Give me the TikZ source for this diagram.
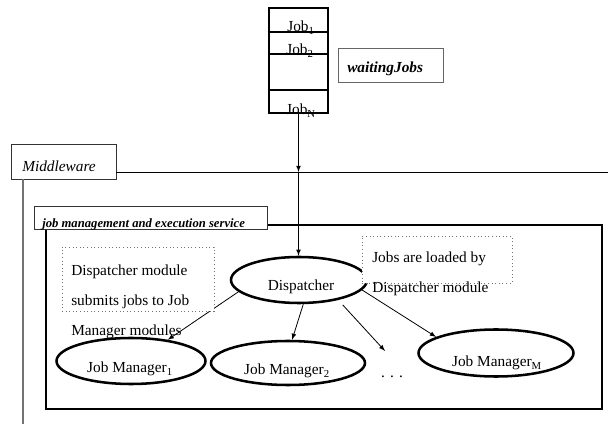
\documentclass[tikz,border=0pt]{standalone}
\usepackage{fontspec}
\setmainfont{Liberation Serif}
\usetikzlibrary{arrows,positioning,fit,shapes.geometric}

\begin{document}
\begin{tikzpicture}[x=0.75pt,y=-0.75pt,
  txt/.style={font=\fontsize{11.5}{22.5}\selectfont, inner sep=0pt, anchor=base west, align=left},
  tag/.style={draw=black!80, line width=0.6pt, fill=white, inner sep=0pt},
  note/.style={draw=black!55, dotted, line width=0.7pt, fill=white, inner sep=0pt},
  proc/.style={ellipse, draw, line width=1.9pt, inner sep=0pt},
  link/.style={-latex, line width=0.6pt},
  rule/.style={line width=1.9pt}
]
  \useasboundingbox (0,0) rectangle (608,424);

  \node[txt, anchor=base] (job1) at (301,32) {Job\textsubscript{1}};
  \node[txt, anchor=base] (job2) at (300,55) {Job\textsubscript{2}};
  \node[txt, anchor=base] (jobn) at (301,115) {Job\textsubscript{N}};
  \node[draw, rule, inner sep=0pt, fit={(269,8) (328,113)}] (queue) {};
  \foreach \y in {32,54,90}
    \draw[rule] (queue.west |- 0,\y) -- (queue.east |- 0,\y);

  \node[tag, draw=black!60, fit={(338,48) (443,82)}] (wait) {};
  \node[txt, font=\fontsize{11.5}{13}\selectfont\bfseries\itshape] (waitlbl) at (347,73) {waitingJobs};

  \node[draw, line width=1.2pt, inner sep=0pt, fit={(46,225) (602,409)}] (jobsvc) {};
  \node[tag, fit={(11,144) (116,179)}] (mwtag) {};
  \node[txt, font=\fontsize{11.5}{13}\selectfont\itshape] (mwlbl) at (22,172) {Middleware};
  \coordinate (mwend) at (608,172);
  \coordinate (mwfoot) at (23,424);
  \draw[line width=0.6pt] (mwtag.east |- mwend) -- (mwend);
  \draw[black!55, line width=0.9pt] (mwfoot |- mwtag.south) -- (mwfoot);
  \node[tag, fit={(34,206) (267,229)}] (svctag) {};
  \node[txt, font=\fontsize{9.5}{11}\selectfont\bfseries\itshape] (svclbl) at (42,228) {job management and execution service};

  \node[proc, minimum width=102pt, minimum height=34.5pt] (disp) at (299,280) {};
  \node[txt, anchor=base] (displbl) at (301,291) {Dispatcher};
  \node[proc, minimum width=111.75pt, minimum height=34.5pt] (jm1) at (131,361) {};
  \node[txt, anchor=base] (jm1lbl) at (130,373) {Job Manager\textsubscript{1}};
  \node[proc, minimum width=115.5pt, minimum height=33pt] (jm2) at (288,363) {};
  \node[txt, anchor=base] (jm2lbl) at (287,375) {Job Manager\textsubscript{2}};
  \node[txt, anchor=base] (more) at (392,378) {.\,\,.\,\,.};
  \node[proc, minimum width=116.25pt, minimum height=35.25pt] (jmm) at (496,353) {};
  \node[txt, anchor=base] (jmmlbl) at (497,367) {Job Manager\textsubscript{M}};

  \coordinate (mwcross) at (queue.south |- mwend);
  \draw[link] (queue.south) -- (mwcross);
  \draw[link] (mwcross) -- (mwcross |- disp.north);
  \draw[link] (disp.191) -- (jm1.30);
  \draw[link] (disp.-80) -- (jm2.80);
  \coordinate (tomore) at (385,351);
  \draw[link, shorten <=5pt] (disp.-27) -- (tomore);
  \draw[link] (disp.-9) -- (jmm.165);

  \node[note, fit={(62,247) (214,311)}] (note1) {};
  \node[txt] (note1lbl) at (71,336) {Dispatcher module\\submits jobs to Job\\Manager modules};
  \node[note, fit={(362,236) (512,283)}] (note2) {};
  \node[txt] (note2lbl) at (372,293) {Jobs are loaded by\\Dispatcher module};
\end{tikzpicture}
\end{document}
